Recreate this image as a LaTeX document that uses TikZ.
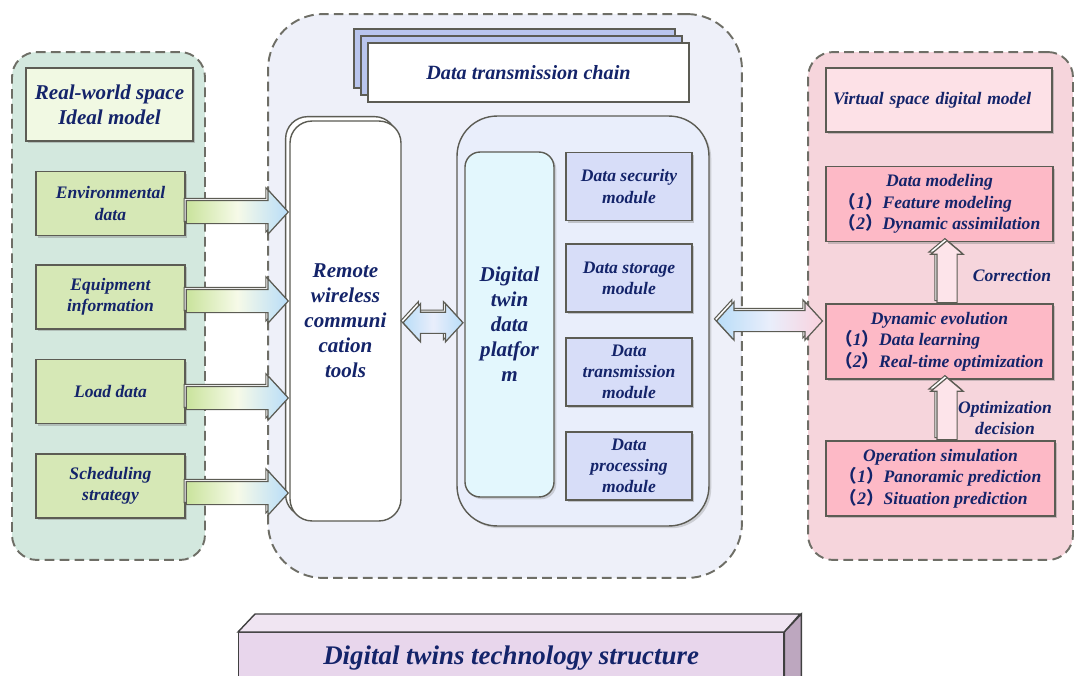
\documentclass[tikz,border=0pt]{standalone}
\usepackage{fontspec}
\setmainfont{Liberation Serif}
\newfontfamily\cjk{Noto Sans CJK SC}
\usepackage{xcolor}
\definecolor{cText}{HTML}{14246A}
\definecolor{cLine}{HTML}{5C5C54}
\definecolor{cDash}{HTML}{6E6E66}
\definecolor{cRealBg}{HTML}{D3E8DE}
\definecolor{cRealHead}{HTML}{F1F9E3}
\definecolor{cGreen}{HTML}{D6E8B6}
\definecolor{cChainBg}{HTML}{EEF0F9}
\definecolor{cChainBack}{HTML}{B9C5ED}
\definecolor{cPlatWrap}{HTML}{E9EEFB}
\definecolor{cPlat}{HTML}{E3F7FD}
\definecolor{cModule}{HTML}{D7DDF8}
\definecolor{cVirtBg}{HTML}{F6D5DC}
\definecolor{cVirtHead}{HTML}{FDE1E7}
\definecolor{cPink}{HTML}{FDB9C6}
\definecolor{cUpArrow}{HTML}{FDE4EA}
\definecolor{cArrowG}{HTML}{C9E39C}
\definecolor{cArrowMid}{HTML}{F6FAE8}
\definecolor{cArrowB}{HTML}{B9DDF8}
\definecolor{cArrowP}{HTML}{FAD2DE}
\definecolor{cTitleFront}{HTML}{E8D6EC}
\definecolor{cTitleTop}{HTML}{F0E5F2}
\definecolor{cTitleSide}{HTML}{BDA7BF}
\definecolor{cTitleLine}{HTML}{404040}
\usepackage{tikz}
\usetikzlibrary{positioning,calc,shapes.arrows,shadows}
\newcommand{\tagno}[1]{{\cjk （}#1{\cjk ）}}
\newcommand{\steplist}[3]{\begin{tabular}{@{}l@{}}\multicolumn{1}{@{}c@{}}{#1}\\#2\\#3\end{tabular}}
\tikzset{
  panel/.style={draw=cDash,line width=1.1pt,dash pattern=on 5.5pt off 3pt,
    rounded corners=0.5cm,inner sep=0pt},
  box/.style={draw=cLine,line width=0.8pt,inner sep=2pt,
    drop shadow={shadow xshift=1.3pt,shadow yshift=-1.3pt,opacity=0.4}},
  box-green/.style={box,fill=cGreen,minimum width=2.98cm,minimum height=1.28cm},
  box-module/.style={box,fill=cModule,minimum width=2.52cm,minimum height=1.36cm},
  box-pink/.style={box,fill=cPink,minimum width=4.54cm,minimum height=1.5cm},
  txt-big/.style={font=\fontsize{12}{14.2}\selectfont\bfseries\itshape},
  arrow-3d/.style={general shadow={shadow xshift=-1.2pt,shadow yshift=1.2pt,
    fill=white,draw=cLine,line width=0.6pt}},
  arrow-feed/.style={single arrow,draw=cLine,line width=0.7pt,inner sep=0.22cm,
    single arrow head extend=0.21cm,single arrow tip angle=95,arrow-3d,
    left color=cArrowG,right color=cArrowB,middle color=cArrowMid},
  arrow-link/.style={double arrow,draw=cLine,line width=0.7pt,inner sep=0.2cm,
    double arrow head extend=0.17cm,double arrow tip angle=95,arrow-3d},
  arrow-up/.style={single arrow,shape border rotate=90,draw=cLine,line width=0.7pt,
    fill=cUpArrow,inner sep=0.19cm,single arrow head extend=0.12cm,
    single arrow tip angle=100,arrow-3d},
}

\begin{document}
\begin{tikzpicture}[x=0.02cm,y=-0.02cm,
  every node/.style={font=\fontsize{10}{12}\selectfont\bfseries\itshape,
    text=cText,align=center}]
  \useasboundingbox (0,0) rectangle (1075,676);

  % 三个区域
  \node[panel,fill=cRealBg,minimum width=3.86cm,minimum height=10.16cm] (realpanel) at (108.5,306) {};
  \node[panel,fill=cChainBg,minimum width=9.48cm,minimum height=11.28cm,rounded corners=1.1cm] (chainpanel) at (505,296) {};
  \node[panel,fill=cVirtBg,minimum width=5.3cm,minimum height=10.16cm] (virtpanel) at (940.5,306) {};

  % 物理空间
  \node[box,fill=cRealHead,minimum width=3.34cm,minimum height=1.46cm,txt-big] (realbox) at (109.5,104.5) {Real-world space\\Ideal model};
  \node[box-green] (envdata)    at (110.5,203.5) {Environmental\\data};
  \node[box-green] (equipinfo)  at (110.5,297)   {Equipment\\information};
  \node[box-green] (loaddata)   at (110.5,391.5) {Load data};
  \node[box-green] (schedstrat) at (110.5,486)   {Scheduling\\strategy};

  % 数据传输链
  \node[draw=cLine,line width=0.8pt,fill=white,minimum width=6.42cm,minimum height=1.18cm,
    general shadow={shadow xshift=-8pt,shadow yshift=8pt,fill=cChainBack,draw=cLine,line width=0.8pt},
    general shadow={shadow xshift=-4pt,shadow yshift=4pt,fill=cChainBack,draw=cLine,line width=0.8pt},
    font=\fontsize{11.5}{13}\selectfont\bfseries\itshape] (chain) at (528.5,72.5) {Data transmission chain};
  \node[draw=cLine,line width=0.8pt,fill=white,rounded corners=0.44cm,minimum width=2.22cm,minimum height=8cm,
    general shadow={shadow xshift=-2.5pt,shadow yshift=2.5pt,fill=white,draw=cLine,line width=0.8pt},
    txt-big] (remote) at (345.5,321) {Remote\\wireless\\communi\\cation\\tools};
  \node[draw=cLine,line width=0.8pt,fill=cPlatWrap,rounded corners=0.8cm,minimum width=5.04cm,minimum height=8.2cm,
    drop shadow={shadow xshift=1.3pt,shadow yshift=-1.3pt,opacity=0.3}] (platwrap) at (583,321) {};
  \node[draw=cLine,line width=0.8pt,fill=cPlat,rounded corners=0.3cm,minimum width=1.78cm,minimum height=6.9cm,
    drop shadow={shadow xshift=1.3pt,shadow yshift=-1.3pt,opacity=0.3},
    txt-big] (dtplat) at (509.5,324.5) {Digital\\twin\\data\\platfor\\m};
  \node[box-module] (modsec)   at (629,186.5) {Data security\\module};
  \node[box-module] (modstore) at (629,278)   {Data storage\\module};
  \node[box-module] (modtrans) at (629,372)   {Data\\transmission\\module};
  \node[box-module] (modproc)  at (629,466)   {Data\\processing\\module};

  % 虚拟空间
  \node[box,fill=cVirtHead,minimum width=4.52cm,minimum height=1.28cm,text width=4.24cm,
    inner xsep=0.14cm,align=left] (virtbox) at (939,100) {Virtual space digital model};
  \node[box-pink] (datamodel) at (939.5,204)
    {\steplist{Data modeling}{\tagno{1}Feature modeling}{\tagno{2}Dynamic assimilation}};
  \node[box-pink] (dynevo) at (939.5,341.5)
    {\steplist{Dynamic evolution}{\tagno{1}Data learning}{\tagno{2}Real-time optimization}};
  \node[box-pink,minimum width=4.58cm] (opsim) at (940.5,478.5)
    {\steplist{Operation simulation}{\tagno{1}Panoramic prediction}{\tagno{2}Situation prediction}};

  % 箭头
  \node[arrow-feed,minimum height=2.04cm,anchor=tail] (feedA) at ($(envdata.east)+(0,8.5)$) {};
  \node[arrow-feed,minimum height=2.04cm,anchor=tail] (feedB) at ($(equipinfo.east)+(0,4)$) {};
  \node[arrow-feed,minimum height=2.04cm,anchor=tail] (feedC) at ($(loaddata.east)+(0,6.5)$) {};
  \node[arrow-feed,minimum height=2.04cm,anchor=tail] (feedD) at ($(schedstrat.east)+(0,7)$) {};
  \node[arrow-link,minimum height=1.2cm,left color=cArrowB,right color=cArrowB,middle color=cPlatWrap]
    (linkA) at ($(remote.east)!0.5!(dtplat.west)$) {};
  \node[arrow-link,minimum height=2.12cm,left color=cArrowB,right color=cArrowP,middle color=cPlatWrap]
    (linkB) at ($(platwrap.east)!0.5!(platwrap.east -| dynevo.west)+(2,0)$) {};
  \node[arrow-up,minimum height=1.24cm,anchor=tail] (upA) at ($(dynevo.north)+(7.5,0)$) {};
  \node[arrow-up,minimum height=1.24cm,anchor=tail] (upB) at ($(opsim.north)+(6.5,0)$) {};
  \node (corrlabel) at (1012,275) {Correction};
  \node (optlabel) at (1005,418) {Optimization\\decision};

  % 底部标题
  \node[draw=cTitleLine,line width=0.8pt,fill=cTitleFront,minimum width=10.9cm,minimum height=1cm,
    anchor=north west,font=\fontsize{15.3}{17}\selectfont\bfseries\itshape] (titlebar) at (238,632)
    {Digital twins technology structure};
  \filldraw[fill=cTitleTop,draw=cTitleLine,line width=0.8pt] (titlebar.north west) -- ++(17,-18) -- ++(545,0) -- (titlebar.north east) -- cycle;
  \filldraw[fill=cTitleSide,draw=cTitleLine,line width=0.8pt] (titlebar.north east) -- ++(17,-18) -- ++(0,68) -- (titlebar.south east) -- cycle;
\end{tikzpicture}
\end{document}
